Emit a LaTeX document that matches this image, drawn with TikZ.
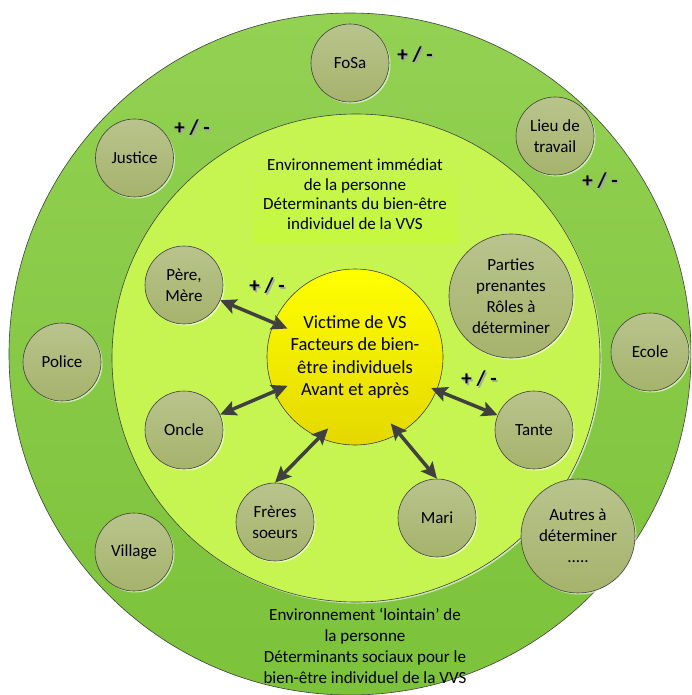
\documentclass[tikz,border=0pt]{standalone}
\usepackage{fontspec}
\setmainfont{Carlito}
\usetikzlibrary{arrows.meta,shadows}
\definecolor{outerT}{HTML}{93D152}
\definecolor{outerB}{HTML}{7CC23A}
\definecolor{innerC}{HTML}{C6F552}
\definecolor{boxC}{HTML}{C6F83E}
\definecolor{satT}{HTML}{B8C48C}
\definecolor{satB}{HTML}{A6B36C}
\definecolor{yelT}{HTML}{FFFF00}
\definecolor{yelB}{HTML}{E4D800}
\definecolor{arrC}{HTML}{404040}
\definecolor{edgeC}{HTML}{404040}
\newcommand{\satfont}{\fontsize{17}{21}\selectfont}
\newcommand{\envfont}{\fontsize{17}{19.5}\selectfont}
\newcommand{\botfont}{\fontsize{17}{21}\selectfont}
\newcommand{\vicfont}{\fontsize{18.5}{22.5}\selectfont}
\newcommand{\pmfont}{\fontsize{21}{24}\selectfont\bfseries}
\begin{document}
\begin{tikzpicture}[x=1pt,y=-1pt,
  ring/.style={circle, draw=edgeC, line width=0.6pt, inner sep=0pt,
    drop shadow={shadow xshift=1.5pt, shadow yshift=-1.5pt, fill=white, opacity=0.6}},
  sat/.style={circle, draw=edgeC, line width=0.6pt, top color=satT, bottom color=satB,
    minimum size=78pt, inner sep=1pt, align=center, font=\satfont, text=black,
    drop shadow={shadow xshift=1.5pt, shadow yshift=-1.5pt, fill=white, opacity=0.6}},
  arr/.style={draw=arrC, line width=3.5pt,
    {Stealth[length=16pt,width=15pt,inset=3pt]}-{Stealth[length=16pt,width=15pt,inset=3pt]}},
  pmshadow/.style={font=\pmfont, text=black!35},
  pm/.style={font=\pmfont, text=black}
]
\useasboundingbox (0,0) rectangle (691,695);
\clip (0,0) rectangle (691,695);

% rings
\node[ring, minimum size=682pt, top color=outerT, bottom color=outerB] (outer) at (350,354) {};
\node[ring, minimum size=488pt, fill=innerC] (inner) at (356,358) {};
\shade[top color=innerC, bottom color=boxC] (253,150) rectangle (458,243);

% centre
\node[circle, draw=edgeC, line width=0.6pt, top color=yelT, bottom color=yelB,
  minimum size=176pt, inner sep=0pt, align=center, font=\vicfont] (vict) at (355,357)
  {Victime de VS\\Facteurs de bien-\\être individuels\\Avant et après};

% texts
\node[align=center, font=\envfont] (txtin) at (355,194)
  {Environnement immédiat\\de la personne\\Déterminants du bien-être\\individuel de la VVS};
\node[align=center, font=\botfont] (txtout) at (365,646)
  {Environnement ‘lointain’ de\\la personne\\Déterminants sociaux pour le\\bien-être individuel de la VVS};

% satellites
\node[sat] (fosa) at (350,63) {FoSa};
\node[sat] (justice) at (134.5,158) {Justice};
\node[sat] (lieu) at (555,136) {Lieu de\\travail};
\node[sat] (pere) at (184,285) {Père,\\Mère};
\node[sat, minimum size=124pt] (parties) at (511,296) {Parties\\prenantes\\Rôles à\\déterminer};
\node[sat] (ecole) at (650,352) {Ecole};
\node[sat] (police) at (62,362) {Police};
\node[sat] (oncle) at (184,430) {Oncle};
\node[sat] (tante) at (534,430) {Tante};
\node[sat] (freres) at (275,522) {Frères\\soeurs};
\node[sat] (mari) at (437,518) {Mari};
\node[sat] (village) at (134,552) {Village};
\node[sat, minimum size=114pt] (autres) at (578,536) {Autres à\\déterminer\\.....};

% arrows
\draw[arr, shorten >=-15pt] (pere) -- (vict);
\draw[arr, shorten >=-15pt] (oncle) -- (vict);
\draw[arr, shorten <=-6pt] (vict) -- (tante);
\draw[arr, shorten <=-13pt] (vict.246) -- (freres.north);
\draw[arr, shorten <=-13pt] (vict.300) -- (mari.north);

% + / - labels
\foreach \n/\x/\y in {pa/415/55, pb/192/128, pc/600/181, pd/267/286, pe/479/379}{
  \node[pmshadow] (\n s) at (\x+1.5,\y+1.5) {+ / -};
  \node[pm] (\n) at (\x,\y) {+ / -};
}
\end{tikzpicture}
\end{document}
